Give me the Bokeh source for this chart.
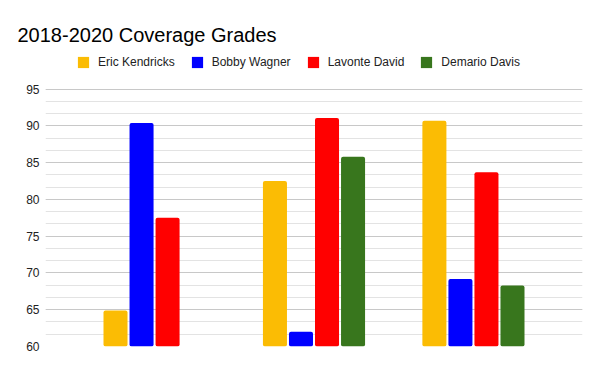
from bokeh.plotting import figure
from bokeh.models import ColumnDataSource, Range1d, Legend, LegendItem, FixedTicker
from bokeh.embed import file_html
from bokeh.resources import INLINE

# ---- data ----
groups = ["2018", "2019", "2020"]
series_names = ["Eric Kendricks", "Bobby Wagner", "Lavonte David", "Demario Davis"]
kendricks = [64.9, 82.5, 90.7]
wagner = [90.4, 62.0, 69.2]
david = [77.5, 91.1, 83.7]
davis = [float("nan"), 85.8, 68.3]
y_ticks = [60, 65, 70, 75, 80, 85, 90, 95]
title_text = "2018-2020 Coverage Grades"

colors = ["#fbbc04", "#0000ff", "#ff0000", "#38761d"]
values = [kendricks, wagner, david, davis]

FONT = "Liberation Sans"

# frame extends up to the legend row; axis values stop at 95
p = figure(frame_width=537, frame_height=296,
           min_border_left=45, min_border_right=18,
           min_border_top=50, min_border_bottom=25,
           x_range=Range1d(-0.684, 2.684), y_range=Range1d(60, 100.27),
           output_backend="svg", toolbar_location=None, tools="",
           title=title_text)
p.outline_line_color = None
p.background_fill_color = "white"
p.border_fill_color = "white"

p.title.text_font = FONT
p.title.text_font_size = "20px"
p.title.text_font_style = "normal"
p.title.text_color = "#000000"
p.title.align = "left"
p.title.offset = -28
p.title.standoff = 10

xs = list(range(len(groups)))
offsets = [-0.2449, -0.0816, 0.0816, 0.2449]
renderers = []
for name, vals, col, off in zip(series_names, values, colors, offsets):
    src = ColumnDataSource(dict(x=[x + off for x in xs], top=vals, bottom=[0] * len(vals)))
    r = p.vbar(x="x", top="top", bottom="bottom", width=0.1507, source=src,
               fill_color=col, line_color=None, border_radius=2)
    renderers.append((name, r))

p.xaxis.visible = False
yax = p.yaxis[0]
yax.ticker = FixedTicker(ticks=y_ticks,
                         minor_ticks=[60 + i * 5 / 3 for i in range(22)])
yax.axis_line_color = None
yax.major_tick_line_color = None
yax.minor_tick_line_color = None
yax.major_tick_out = 0
yax.minor_tick_out = 0
yax.major_label_standoff = 6
yax.major_label_text_font = FONT
yax.major_label_text_font_size = "12px"
yax.major_label_text_color = "#222222"

p.xgrid.visible = False
p.ygrid.grid_line_color = "#c8c8c8"
p.ygrid.grid_line_width = 1
p.ygrid.minor_grid_line_color = "#e3e3e3"
p.ygrid.minor_grid_line_width = 1

legend = Legend(items=[LegendItem(label=n, renderers=[r]) for n, r in renderers],
                orientation="horizontal", location=(31, 277),
                glyph_width=14, glyph_height=14, label_height=14,
                label_standoff=8, spacing=15, padding=0, margin=0,
                border_line_color=None, background_fill_alpha=0,
                label_text_font=FONT, label_text_font_size="12px",
                label_text_color="#222222")
p.add_layout(legend, "center")

open("out.html", "w").write(file_html(p, INLINE))
